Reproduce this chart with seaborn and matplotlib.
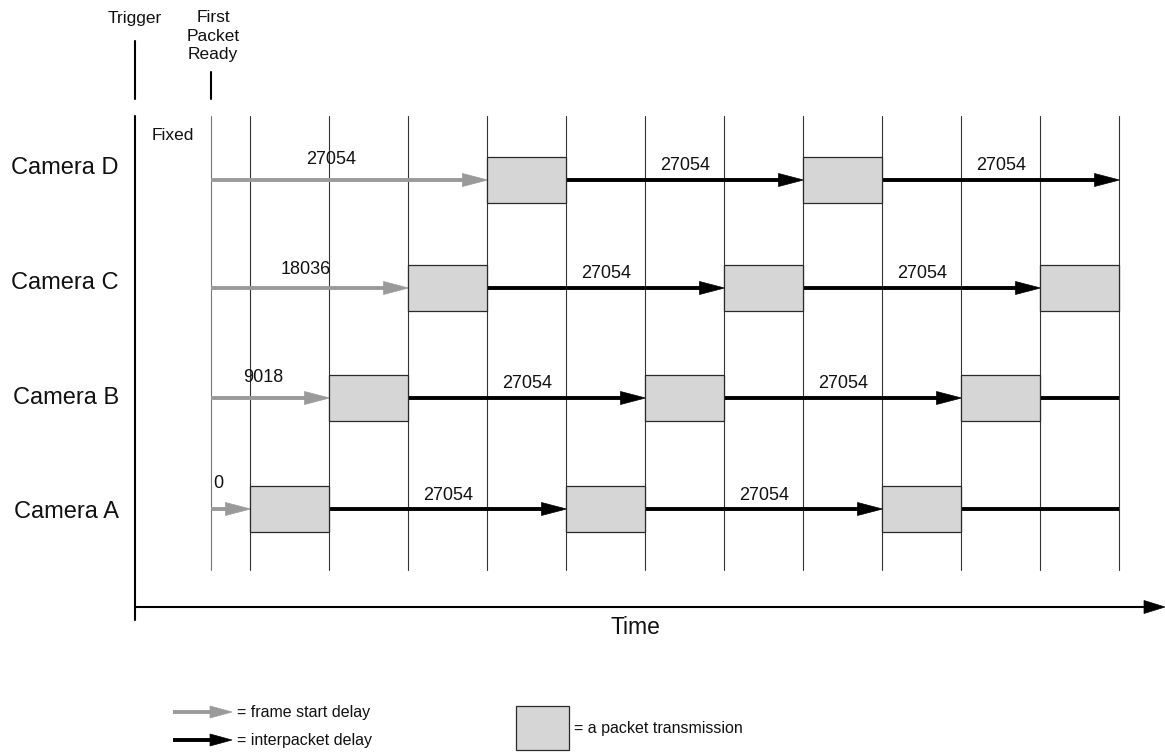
import matplotlib
matplotlib.use("Agg")
import matplotlib.pyplot as plt
from matplotlib.patches import Rectangle, Polygon
import seaborn as sns

# ---------------- data ----------------
cameras = ["Camera D", "Camera C", "Camera B", "Camera A"]
frame_start_delay = [27054, 18036, 9018, 0]
interpacket_delay = 27054
packet_duration = 9018
fixed_offset = 4509
timeline_end = 103707
legend_labels = ["= frame start delay", "= interpacket delay", "= a packet transmission"]

# ---------------- style / layout ----------------
sns.set_theme(style="white")
plt.rcParams['font.family'] = ['Liberation Sans', 'DejaVu Sans']

W, H = 1165, 755
PPU = 79.0 / 9018.0       # pixels per time unit
X0 = 211                  # pixel of t = 0

def px(xp):
    """layout pixel -> time axis units"""
    return (xp - X0) / PPU

GRAY = "#9a9a9a"
BLACK = "#000000"
BOXFILL = "#d6d6d6"

row_y = [180, 288, 398, 509]
label_y = [168, 283, 398, 512]
box_h = 46
gray_label_dx = [120, 95, 52, 7]
gray_label_dy = [-21, -19, -21, -25]
black_label_dy = -14

fig = plt.figure(figsize=(W / 100, H / 100), dpi=100)
ax = fig.add_axes([0, 0, 1, 1])
ax.set_xlim(px(0), px(W))
ax.set_ylim(H, 0)
ax.axis("off")

HEAD_L = 25 / PPU
HEAD_HW = 6.5
LW_ARROW = 2.8


def arrow(t0, t1, y, color, head=True, lw=LW_ARROW, hl=HEAD_L, hw=HEAD_HW):
    end = t1 - hl * 0.9 if head else t1
    ax.plot([t0, end], [y, y], color=color, lw=lw, solid_capstyle="butt", zorder=3)
    if head:
        ax.add_patch(Polygon([[t1, y], [t1 - hl, y - hw], [t1 - hl, y + hw]],
                             closed=True, facecolor=color, edgecolor=color, lw=0.5, zorder=4))


def box(t, y):
    ax.add_patch(Rectangle((t, y - box_h / 2), packet_duration, box_h,
                           facecolor=BOXFILL, edgecolor="#2a2a2a", lw=0.9, zorder=5))


# vertical grid lines
grid_t = [0] + [fixed_offset + k * packet_duration
                for k in range(int((timeline_end - fixed_offset) / packet_duration) + 1)]
for i, t in enumerate(grid_t):
    ax.plot([t, t], [116, 570], color="#777777" if i == 0 else "#333333", lw=0.8, zorder=1)

for cam, delay, y, ly, gdx, gdy in zip(cameras, frame_start_delay, row_y, label_y,
                                        gray_label_dx, gray_label_dy):
    ax.text(px(119), ly, cam, ha="right", va="center", fontsize=17, color="#111111")
    start = fixed_offset + delay
    # frame start delay (gray)
    arrow(0, start, y, GRAY)
    ax.text(gdx / PPU, y + gdy, str(delay), ha="center", va="center", fontsize=13, color="#111111")
    t = start
    while t < timeline_end:
        box(t, y)
        seg0 = t + packet_duration
        if seg0 >= timeline_end:
            break
        nxt = seg0 + interpacket_delay
        if nxt <= timeline_end:
            arrow(seg0, nxt, y, BLACK, head=True)
            ax.text((seg0 + nxt) / 2, y + black_label_dy, str(interpacket_delay),
                    ha="center", va="center", fontsize=13, color="#111111")
        else:
            arrow(seg0, timeline_end, y, BLACK, head=False)
        t = nxt

# axis lines
ax.plot([px(135), px(135)], [116, 620], color=BLACK, lw=1.5, zorder=2)
arrow(px(135), px(1165), 607, BLACK, head=True, lw=1.5, hl=21 / PPU, hw=6.5)
ax.text(px(635), 627, "Time", ha="center", va="center", fontsize=16.5, color="#111111")

# trigger / first packet ready markers
ax.plot([px(135), px(135)], [41, 99], color=BLACK, lw=1.5)
ax.plot([px(211), px(211)], [72, 99], color=BLACK, lw=1.5)
ax.text(px(135), 18, "Trigger", ha="center", va="center", fontsize=12.5, color="#111111")
for i, word in enumerate(["First", "Packet", "Ready"]):
    ax.text(px(213), 18 + i * 18.5, word, ha="center", va="center", fontsize=12.5,
            color="#111111")
ax.text(px(152), 136, "Fixed", ha="left", va="center", fontsize=12.5, color="#111111")

# legend
arrow(px(173), px(232), 712, GRAY, head=True, lw=2.8, hl=22 / PPU, hw=6)
ax.text(px(237), 712, legend_labels[0], ha="left", va="center", fontsize=11.5, color="#111111")
arrow(px(173), px(232), 740, BLACK, head=True, lw=2.8, hl=22 / PPU, hw=6)
ax.text(px(237), 740, legend_labels[1], ha="left", va="center", fontsize=11.5, color="#111111")
ax.add_patch(Rectangle((px(516), 706), 53 / PPU, 44, facecolor=BOXFILL, edgecolor="#2a2a2a", lw=0.9))
ax.text(px(574), 729, legend_labels[2], ha="left", va="center", fontsize=11.5, color="#111111")

fig.savefig("out.png", dpi=100)
